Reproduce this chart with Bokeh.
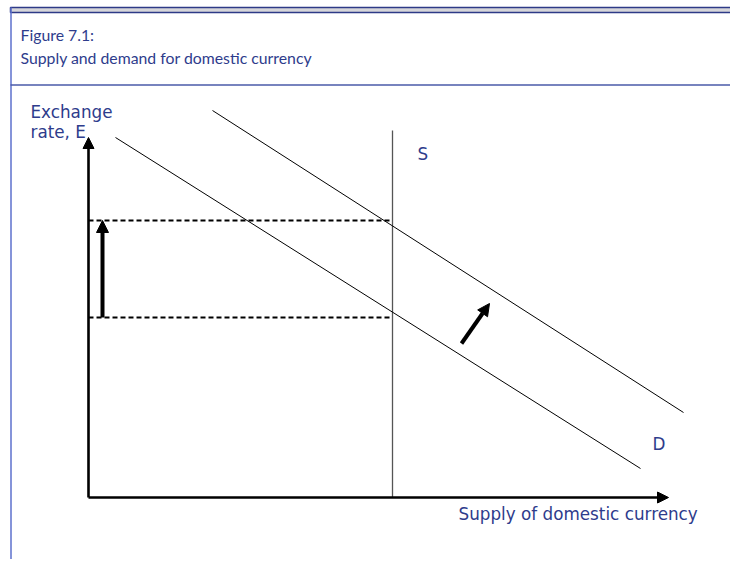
from bokeh.plotting import figure
from bokeh.models import Range1d, Arrow, NormalHead, Label
from bokeh.embed import file_html
from bokeh.resources import INLINE

# ---- data (conceptual units: quantity of domestic currency, exchange rate) ----
axis_x_max = 58.0
axis_y_max = 36.0
supply_q = 30.4
supply_top = 36.7
e_low = 18.0
e_high = 27.7
demand1_q = [2.7, 55.2]
demand1_e = [36.0, 2.9]
demand2_q = [12.4, 59.5]
demand2_e = [38.7, 8.5]
shift_arrow_q = [37.3, 40.1]
shift_arrow_e = [15.4, 19.4]
rise_arrow_q = 1.4
title_lines = ["Figure 7.1:", "Supply and demand for domestic currency"]
y_label_lines = ["Exchange", "rate, E"]
x_label = "Supply of domestic currency"
supply_label = "S"
demand_label = "D"

TXT = "#2E3C8C"
W, H = 730, 559

# pixel-to-data mapping helpers (figure fills the page, 10 px per unit)
def dx(px):
    return (px - 88) / 10.0

def dy(py):
    return (497 - py) / 10.0

p = figure(width=W, height=H, output_backend="svg", toolbar_location=None,
           x_range=Range1d(dx(0), dx(W)), y_range=Range1d(dy(H), dy(0)),
           min_border=0, outline_line_color=None)
p.axis.visible = False
p.grid.visible = False

# ---- frame decoration ----
p.quad(left=[dx(10)], right=[dx(740)], top=[dy(7)], bottom=[dy(12)],
       fill_color="#D6D6DA", line_color="#2E3A87", line_width=1.5)
p.segment(x0=[dx(10.5)], y0=[dy(7)], x1=[dx(10.5)], y1=[dy(570)],
          line_color="#5D70CC", line_width=1.5)
p.segment(x0=[dx(10)], y0=[dy(84.5)], x1=[dx(740)], y1=[dy(84.5)],
          line_color="#4A5AA8", line_width=1.5)

# ---- title ----
p.add_layout(Label(x=dx(20), y=dy(33.5), text=title_lines[0], text_font="Lato",
                   text_font_size="15.8px", text_color=TXT, text_baseline="alphabetic"))
p.add_layout(Label(x=dx(20), y=dy(56.5), text=title_lines[1], text_font="Lato",
                   text_font_size="15.8px", text_color=TXT, text_baseline="alphabetic"))

# ---- axes with arrowheads ----
p.add_layout(Arrow(end=NormalHead(size=11, fill_color="black", line_color="black"),
                   x_start=0, y_start=0, x_end=0, y_end=axis_y_max,
                   line_width=2.6, line_color="black"))
p.add_layout(Arrow(end=NormalHead(size=11, fill_color="black", line_color="black"),
                   x_start=0, y_start=0, x_end=axis_x_max, y_end=0,
                   line_width=2.6, line_color="black"))

# ---- supply ----
p.line([supply_q, supply_q], [0, supply_top], line_color="#555555", line_width=1.3)

# ---- demand curves ----
p.line(demand1_q, demand1_e, line_color="black", line_width=1)
p.line(demand2_q, demand2_e, line_color="black", line_width=1)

# ---- dashed equilibrium levels ----
p.line([0, supply_q], [e_high, e_high], line_color="black", line_width=2, line_dash="5 3")
p.line([0, supply_q], [e_low, e_low], line_color="black", line_width=2, line_dash="5 3")

# ---- shift arrows ----
p.add_layout(Arrow(end=NormalHead(size=12, fill_color="black", line_color="black"),
                   x_start=rise_arrow_q, y_start=e_low, x_end=rise_arrow_q, y_end=e_high,
                   line_width=4, line_color="black"))
p.add_layout(Arrow(end=NormalHead(size=12, fill_color="black", line_color="black"),
                   x_start=shift_arrow_q[0], y_start=shift_arrow_e[0],
                   x_end=shift_arrow_q[1], y_end=shift_arrow_e[1],
                   line_width=4, line_color="black"))

# ---- labels ----
for txt, px, py in [(y_label_lines[0], 30, 111), (y_label_lines[1], 30, 131),
                    (supply_label, 417, 153), (demand_label, 652, 443),
                    (x_label, 458, 513)]:
    p.add_layout(Label(x=dx(px), y=dy(py), text=txt, text_font="DejaVu Sans",
                       text_font_size="16.8px", text_color=TXT, text_baseline="alphabetic"))

open("out.html", "w").write(file_html(p, INLINE))
